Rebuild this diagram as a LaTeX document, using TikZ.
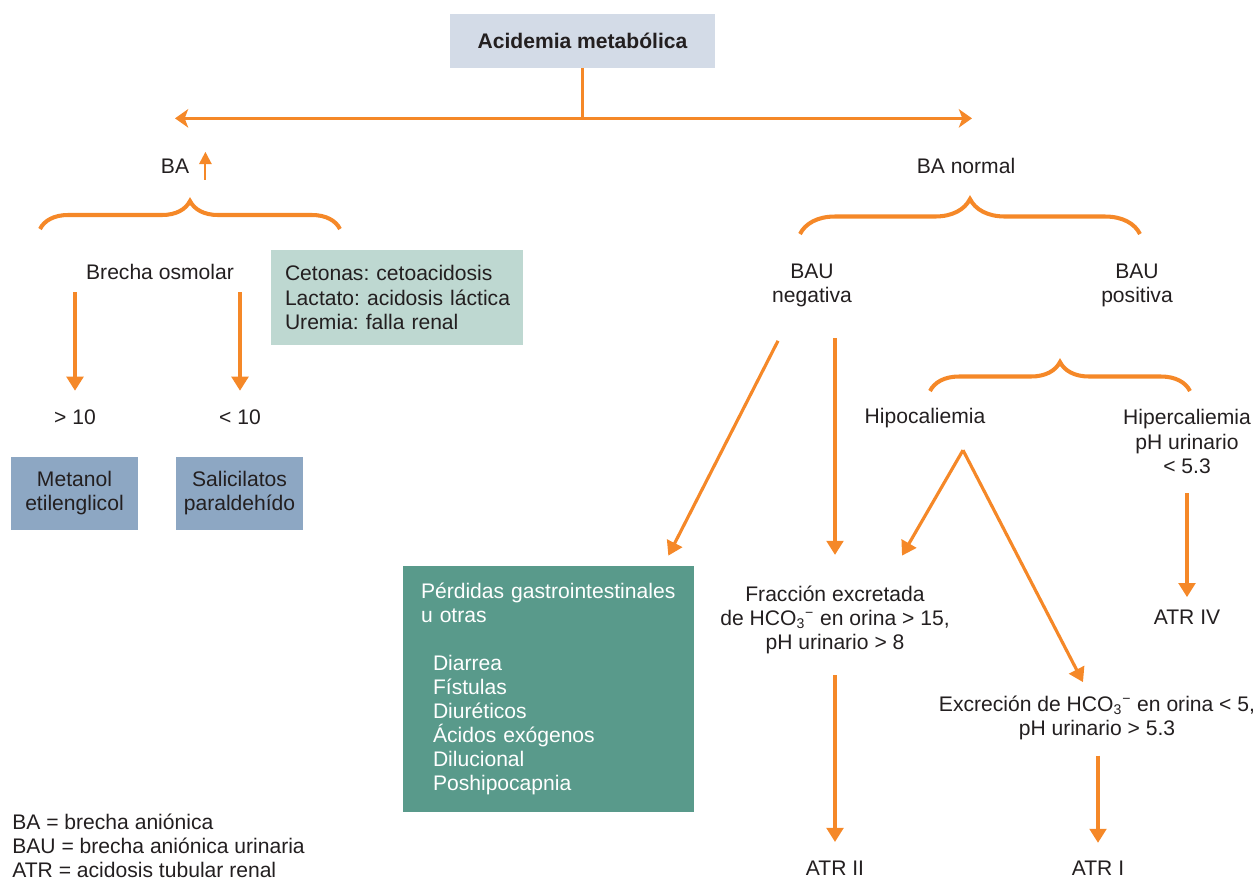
\documentclass[tikz,border=0pt]{standalone}
\usepackage{fontspec}
\setmainfont{Liberation Sans}
\usepackage{tikz}
\usetikzlibrary{arrows.meta,calc,decorations.pathreplacing}
\definecolor{naranja}{RGB}{245,136,40}
\definecolor{tinta}{RGB}{35,31,32}
\definecolor{gristit}{RGB}{211,219,231}
\definecolor{verdecl}{RGB}{190,216,209}
\definecolor{azulgr}{RGB}{141,167,195}
\definecolor{verdeos}{RGB}{89,154,139}
\frenchspacing

\begin{document}
\begin{tikzpicture}[x=0.02cm,y=-0.02cm,
	every node/.style={font=\fontsize{12}{13.7}\selectfont,text=tinta,inner sep=0pt,align=center},
	caja/.style={fill=#1},
	flecha/.style={draw=naranja,line width=1.8pt,-{Triangle[width=9.5pt,length=8pt]}},
	llave/.style={draw=naranja,line width=2.3pt,decorate,decoration={brace,amplitude=#1}}]
					\useasboundingbox (0,0) rectangle (1258,880);
					
					\node[caja=gristit, minimum width=5.3cm, minimum height=1.08cm, font=\fontsize{12}{13.7}\selectfont\bfseries] (acid) at (582.5,41) {Acidemia metabólica};
					\node (ba) at (175,166) {BA};
					\node (ba_n) at (966,166) {BA normal};
					\node (brecha) at (160,272) {Brecha osmolar};
					\node[caja=verdecl, minimum width=5.04cm, minimum height=1.9cm, text width=4.64cm, inner xsep=0.2cm, align=left] (ceto) at (397,297.5) {\hspace*{0.08cm}Cetonas: cetoacidosis\\\hspace*{0.08cm}Lactato: acidosis láctica\\\hspace*{0.08cm}Uremia: falla renal};
					\node (gt10) at (75,417) {> 10};
					\node (lt10) at (240,417) {< 10};
					\node[caja=azulgr, minimum width=2.54cm, minimum height=1.46cm] (metanol) at (74.5,493.5) {Metanol\\etilenglicol};
					\node[caja=azulgr, minimum width=2.54cm, minimum height=1.46cm] (salic) at (239.5,493.5) {Salicilatos\\paraldehído};
					\node (bau_neg) at (812,285) {BAU\\negativa};
					\node (bau_pos) at (1137,285) {BAU\\positiva};
					\node (hipo) at (925,418) {Hipocaliemia};
					\node (hiper) at (1187,441.5) {Hipercaliemia\\pH urinario\\< 5.3};
					\node[caja=verdeos, minimum width=5.82cm, minimum height=4.92cm, text width=5.1cm, inner xsep=0.36cm, align=left, text=white] (perdidas) at (548.5,689) {Pérdidas gastrointestinales\\u otras\\[13.7pt]
						\hspace*{0.24cm}Diarrea\\\hspace*{0.24cm}Fístulas\\\hspace*{0.24cm}Diuréticos\\\hspace*{0.24cm}Ácidos exógenos\\\hspace*{0.24cm}Dilucional\\\hspace*{0.24cm}Poshipocapnia};
					\node (fraccion) at (835,620) {Fracción excretada\\de HCO\textsubscript{3}\textsuperscript{−} en orina > 15,\\pH urinario > 8};
					\node (atr4) at (1187,617) {ATR IV};
					\node (excrecion) at (1097,717.5) {Excreción de HCO\textsubscript{3}\textsuperscript{−} en orina < 5,\\pH urinario > 5.3};
					\node (atr2) at (835,868) {ATR II};
					\node (atr1) at (1098,868) {ATR I};
					\node[anchor=west, align=left] (leyenda) at (12,846) {BA = brecha aniónica\\BAU = brecha aniónica urinaria\\ATR = acidosis tubular renal};
					
					\coordinate (split) at ($(acid.south)+(0,50)$);
					\coordinate (hipo_fork) at ($(hipo.south)+(38,22)$);
					
					\draw[draw=naranja, line width=1.8pt] (acid.south) -- (split);
					\draw[draw=naranja, line width=2pt, {Stealth[width=10.5pt,length=7.5pt,inset=2pt]}-{Stealth[width=10.5pt,length=7.5pt,inset=2pt]}] (split -| ba) -- ($(split -| ba_n)+(6,0)$);
					\draw[draw=naranja, line width=1.2pt, -{Triangle[width=7pt,length=7pt]}] ([xshift=9.1pt,yshift=-3.7pt]ba.base east) -- ([xshift=9.1pt,yshift=12.2pt]ba.base east);
					
					\draw[llave=0.56cm] (40,229) -- (340,229);
					\draw[llave=0.7cm] (800,234) -- (1140,234);
					\draw[llave=0.58cm] (930,391) -- (1190,391);
					
					\draw[flecha, shorten <=7pt, shorten >=10.5pt] (brecha.south -| gt10) -- (gt10.north);
					\draw[flecha, shorten <=7pt, shorten >=10.5pt] (brecha.south -| lt10) -- (lt10.north);
					\draw[flecha, shorten <=18pt, shorten >=17.5pt] (bau_neg.south -| fraccion) -- (fraccion.north);
					\draw[flecha] ($(bau_neg.south)+(-34,34)$) -- ($(perdidas.north east)+(-26,-10)$);
					\draw[flecha] (hipo_fork) -- ($(fraccion.north east)+(-48,-30)$);
					\draw[flecha] (hipo_fork) -- ($(excrecion.north)+(-14,-13)$);
					\draw[flecha, shorten <=11pt, shorten >=7pt] (hiper.south) -- (atr4.north);
					\draw[flecha, shorten <=12pt, shorten >=10.5pt] (fraccion.south -| atr2) -- (atr2.north);
					\draw[flecha, shorten <=9pt, shorten >=10pt] (excrecion.south -| atr1) -- (atr1.north);
				\end{tikzpicture}
\end{document}
